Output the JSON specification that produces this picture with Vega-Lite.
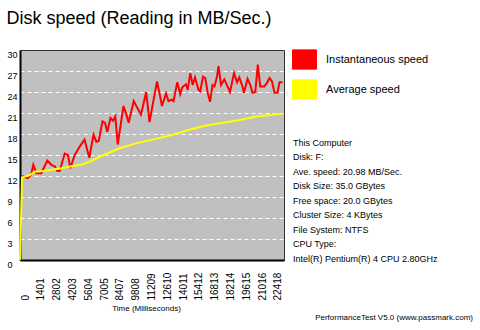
{
  "$schema": "https://vega.github.io/schema/vega-lite/v6.json",
  "padding": {"left": 6, "top": 10, "right": 4, "bottom": 4},
  "background": "white",
  "title": {"text": "Disk speed (Reading in MB/Sec.)", "anchor": "start", "frame": "bounds", "font": "Liberation Sans", "fontSize": 18, "fontWeight": "normal", "color": "black", "offset": 19},
  "config": {"font": "Liberation Sans"},
  "spacing": 5,
  "resolve": {"scale": {"color": "shared"}, "legend": {"color": "shared"}},
  "hconcat": [
    {
      "width": 264,
      "height": 210,
      "view": {"fill": "#C0C0C0", "stroke": "#333333", "strokeWidth": 1},
      "encoding": {
        "x": {"field": "t", "type": "quantitative", "scale": {"domain": [0, 23400], "nice": false, "zero": false},
          "axis": {"values": [0, 1401, 2802, 4203, 5604, 7005, 8407, 9808, 11209, 12610, 14011, 15412, 16813, 18214, 19615, 21016, 22418],
            "format": "d",
            "labelAngle": 270, "labelAlign": "left", "labelBaseline": "middle", "labelPadding": 40, "labelOffset": 5,
            "labelFont": "Liberation Sans", "labelFontSize": 10, "labelColor": "black", "labelOverlap": false, "labelFlush": false, "labelBound": false,
            "ticks": false, "grid": false, "domainColor": "black", "domainWidth": 2,
            "title": "Time (Milliseconds)", "titleFont": "Liberation Sans", "titleFontSize": 8, "titleFontWeight": "normal", "titleColor": "black", "titlePadding": 4, "titleX": 126}},
        "y": {"field": "v", "type": "quantitative", "scale": {"domain": [0, 30], "nice": false},
          "axis": {"values": [0, 3, 6, 9, 12, 15, 18, 21, 24, 27, 30], "grid": true, "gridColor": "white", "gridDash": [4, 3], "gridWidth": 1,
            "gridOpacity": {"condition": {"test": "datum.value >= 30 || datum.value <= 0", "value": 0}, "value": 1},
            "ticks": false, "domainColor": "black", "domainWidth": 2, "labelAlign": "left", "labelBaseline": "top", "labelPadding": 13,
            "labelFont": "Liberation Sans", "labelFontSize": 9, "labelColor": "black", "labelFlush": false, "labelOverlap": false, "title": null}}
      },
      "layer": [
        {
          "data": {"values": [
            {"t": 177, "v": 12.0}, {"t": 683, "v": 11.7}, {"t": 975, "v": 12.1}, {"t": 1179, "v": 13.6}, {"t": 1445, "v": 12.4},
            {"t": 1888, "v": 12.4}, {"t": 2420, "v": 14.2}, {"t": 2774, "v": 13.6}, {"t": 3076, "v": 13.4}, {"t": 3306, "v": 12.7},
            {"t": 3519, "v": 12.7}, {"t": 3962, "v": 15.2}, {"t": 4255, "v": 15.0}, {"t": 4459, "v": 13.1}, {"t": 4849, "v": 15.0},
            {"t": 5292, "v": 16.2}, {"t": 5717, "v": 17.2}, {"t": 6143, "v": 14.6}, {"t": 6515, "v": 17.9}, {"t": 6763, "v": 16.9},
            {"t": 6976, "v": 17.0}, {"t": 7313, "v": 19.8}, {"t": 7534, "v": 19.6}, {"t": 7738, "v": 18.3}, {"t": 8022, "v": 20.3},
            {"t": 8244, "v": 19.9}, {"t": 8447, "v": 20.5}, {"t": 8660, "v": 16.5}, {"t": 9174, "v": 22.0}, {"t": 9422, "v": 20.8},
            {"t": 9635, "v": 19.6}, {"t": 10078, "v": 22.7}, {"t": 10309, "v": 22.0}, {"t": 10725, "v": 20.8}, {"t": 11186, "v": 24.0},
            {"t": 11479, "v": 19.7}, {"t": 11763, "v": 22.2}, {"t": 12144, "v": 25.5}, {"t": 12366, "v": 23.8}, {"t": 12587, "v": 22.0},
            {"t": 12941, "v": 23.8}, {"t": 13163, "v": 22.7}, {"t": 13447, "v": 22.9}, {"t": 13606, "v": 22.7}, {"t": 13943, "v": 25.4},
            {"t": 14200, "v": 23.7}, {"t": 14360, "v": 24.6}, {"t": 14537, "v": 24.9}, {"t": 14714, "v": 25.1}, {"t": 14865, "v": 24.3},
            {"t": 15095, "v": 26.7}, {"t": 15308, "v": 25.0}, {"t": 15512, "v": 26.1}, {"t": 15822, "v": 24.3}, {"t": 15982, "v": 24.1},
            {"t": 16221, "v": 26.2}, {"t": 16425, "v": 26.0}, {"t": 16638, "v": 23.9}, {"t": 16842, "v": 22.6}, {"t": 17063, "v": 25.0},
            {"t": 17241, "v": 24.8}, {"t": 17462, "v": 26.2}, {"t": 17595, "v": 27.7}, {"t": 17817, "v": 25.0}, {"t": 18109, "v": 25.8},
            {"t": 18393, "v": 24.8}, {"t": 18614, "v": 24.0}, {"t": 18969, "v": 26.7}, {"t": 19235, "v": 25.4}, {"t": 19439, "v": 26.1},
            {"t": 19678, "v": 25.0}, {"t": 19856, "v": 23.9}, {"t": 20166, "v": 25.9}, {"t": 20414, "v": 25.0}, {"t": 20609, "v": 23.9},
            {"t": 20857, "v": 24.0}, {"t": 21079, "v": 27.9}, {"t": 21291, "v": 24.8}, {"t": 21655, "v": 24.8}, {"t": 21894, "v": 25.3},
            {"t": 22116, "v": 26.0}, {"t": 22337, "v": 25.5}, {"t": 22559, "v": 23.9}, {"t": 22825, "v": 23.9}, {"t": 23002, "v": 25.4},
            {"t": 23268, "v": 25.4}
          ]},
          "mark": {"type": "line", "strokeWidth": 2},
          "encoding": {"color": {"datum": "Instantaneous speed", "type": "nominal"}}
        },
        {
          "data": {"values": [
            {"t": 0, "v": 0}, {"t": 177, "v": 11.8}, {"t": 860, "v": 12.1}, {"t": 1303, "v": 12.6}, {"t": 2039, "v": 12.7},
            {"t": 2774, "v": 12.9}, {"t": 3661, "v": 13.1}, {"t": 4547, "v": 13.4}, {"t": 5434, "v": 13.6}, {"t": 6116, "v": 14.0},
            {"t": 7419, "v": 15.0}, {"t": 8890, "v": 16.0}, {"t": 10371, "v": 16.7}, {"t": 12055, "v": 17.3}, {"t": 13535, "v": 17.9},
            {"t": 15007, "v": 18.6}, {"t": 16487, "v": 19.2}, {"t": 17994, "v": 19.6}, {"t": 19474, "v": 20.0}, {"t": 20946, "v": 20.5},
            {"t": 23268, "v": 20.9}
          ]},
          "mark": {"type": "line", "strokeWidth": 2},
          "encoding": {
            "color": {"datum": "Average speed", "type": "nominal",
              "scale": {"domain": ["Instantaneous speed", "Average speed"], "range": ["#FF0000", "#FFFF00"]},
              "legend": {"orient": "none", "legendX": 272, "legendY": -3, "title": null, "padding": 0,
                "symbolType": "M-1,-0.8H1V0.8H-1Z", "symbolSize": 576, "symbolStrokeColor": "black", "symbolStrokeWidth": 1,
                "labelFont": "Liberation Sans", "labelFontSize": 11, "labelColor": "black", "labelOffset": 9, "rowPadding": 5,
                "encode": {"symbols": {"update": {"fill": {"scale": "color", "field": "value"}, "stroke": {"value": "black"}, "strokeWidth": {"value": 1}, "opacity": {"value": 1}, "fillOpacity": {"value": 1}}}}}}
          }
        }
      ]
    },
    {
      "width": 180,
      "height": 210,
      "view": {"stroke": null},
      "title": {"text": "PerformanceTest V5.0 (www.passmark.com)", "orient": "bottom", "anchor": "end", "frame": "group", "offset": 50, "font": "Liberation Sans", "fontSize": 8, "fontWeight": "normal", "color": "black"},
      "data": {"values": [
        {"line": 0, "text": "This Computer"},
        {"line": 1, "text": "Disk: F:"},
        {"line": 2, "text": "Ave. speed: 20.98 MB/Sec."},
        {"line": 3, "text": "Disk Size: 35.0 GBytes"},
        {"line": 4, "text": "Free space: 20.0 GBytes"},
        {"line": 5, "text": "Cluster Size: 4 KBytes"},
        {"line": 6, "text": "File System: NTFS"},
        {"line": 7, "text": "CPU Type:"},
        {"line": 8, "text": "Intel(R) Pentium(R) 4 CPU 2.80GHz"}
      ]},
      "mark": {"type": "text", "align": "left", "baseline": "middle", "font": "Liberation Sans", "fontSize": 9, "color": "black"},
      "encoding": {
        "y": {"field": "line", "type": "quantitative", "scale": {"domain": [-6.4, 8.1], "reverse": true, "nice": false, "zero": false}, "axis": null},
        "x": {"datum": 0, "type": "quantitative", "scale": {"domain": [0, 1]}, "axis": null},
        "text": {"field": "text"}
      }
    }
  ]
}
